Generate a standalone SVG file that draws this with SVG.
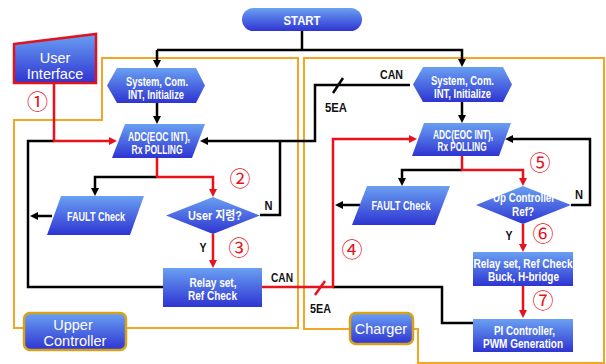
<svg xmlns="http://www.w3.org/2000/svg" width="606" height="364" viewBox="0 0 606 364">
<defs>
<linearGradient id="g" x1="0" y1="0" x2="0" y2="1">
<stop offset="0" stop-color="#6aa0f2"/>
<stop offset="1" stop-color="#2e34d2"/>
</linearGradient>
<marker id="ab" markerUnits="userSpaceOnUse" markerWidth="9" markerHeight="9" refX="1" refY="4" orient="auto">
<path d="M0,0 L8,4 L0,8 z" fill="#000"/>
</marker>
<marker id="ar" markerUnits="userSpaceOnUse" markerWidth="9" markerHeight="9" refX="1" refY="4" orient="auto">
<path d="M0,0 L8,4 L0,8 z" fill="#e8121c"/>
</marker>
<style>
.n{fill:url(#g);}
.t{font-family:"Liberation Sans","Noto Sans CJK KR",sans-serif;font-weight:bold;font-size:12.5px;fill:#fff;text-anchor:middle;}
.big{font-family:"Liberation Sans",sans-serif;font-size:14.5px;fill:#fff;text-anchor:middle;}
.lb{font-family:"Liberation Sans",sans-serif;font-weight:bold;font-size:13.5px;fill:#111;text-anchor:middle;}
.num{font-family:"Noto Sans CJK KR","DejaVu Sans",sans-serif;font-size:21px;fill:#e8121c;text-anchor:middle;}
.blk{stroke:#000;stroke-width:2.5;fill:none;}
.red{stroke:#e8121c;stroke-width:2.5;fill:none;}
.org{stroke:#f5a524;stroke-width:2;fill:none;}
.gold{stroke:#d6a21c;stroke-width:2.5;}
</style>
</defs>

<g id="frames">
<path class="org" d="M102,58 H298 V328 H14 V120 H102 Z"/>
<path class="org" d="M304,58 H604 V363 H418 V329 H304 Z"/>
</g>

<g id="connectors">
<path class="blk" d="M302,31 V50"/>
<path class="blk" d="M157,50 H462 V60" marker-end="url(#ab)"/>
<path class="blk" d="M157,50 V61" marker-end="url(#ab)"/>
<path class="blk" d="M157,103 V117" marker-end="url(#ab)"/>
<path class="blk" d="M462,102 V116" marker-end="url(#ab)"/>
<path class="blk" d="M163,287 H28 V141 H54"/>
<path class="blk" d="M52,216 H37" marker-end="url(#ab)"/>
<path class="blk" d="M157,177 H95 V189" marker-end="url(#ab)"/>
<path class="blk" d="M260,215 H280 V141"/>
<path class="blk" d="M410,85 H315 V141 H207" marker-end="url(#ab)"/>
<path class="blk" d="M462,170 H402 V179" marker-end="url(#ab)"/>
<path class="blk" d="M360,205 H342" marker-end="url(#ab)"/>
<path class="blk" d="M571,205 H590 V139 H512" marker-end="url(#ab)"/>
<path class="blk" d="M333,287 H442 V323 H473"/>
<path class="blk" d="M333,93 L343,78"/>
<path class="red" d="M54,83 V141 H110" marker-end="url(#ar)"/>
<path class="red" d="M157,158 V177 H213 V190" marker-end="url(#ar)"/>
<path class="red" d="M213,234 V261" marker-end="url(#ar)"/>
<path class="red" d="M262,287 H333 V139 H410" marker-end="url(#ar)"/>
<path class="red" d="M315,295 L325,281"/>
<path class="red" d="M462,156 V170 H523 V179" marker-end="url(#ar)"/>
<path class="red" d="M523,224 V245" marker-end="url(#ar)"/>
<path class="red" d="M523,286 V311" marker-end="url(#ar)"/>
<text class="lb" x="391.5" y="79" textLength="23" lengthAdjust="spacingAndGlyphs">CAN</text>
<text class="lb" x="336" y="112" textLength="22" lengthAdjust="spacingAndGlyphs">5EA</text>
<text class="lb" x="282" y="282" textLength="22" lengthAdjust="spacingAndGlyphs">CAN</text>
<text class="lb" x="320.5" y="313" textLength="21" lengthAdjust="spacingAndGlyphs">5EA</text>
<text class="lb" x="268.5" y="210" textLength="8" lengthAdjust="spacingAndGlyphs">N</text>
<text class="lb" x="579" y="199" textLength="8" lengthAdjust="spacingAndGlyphs">N</text>
<text class="lb" x="203" y="252" textLength="7" lengthAdjust="spacingAndGlyphs">Y</text>
<text class="lb" x="509" y="240" textLength="7" lengthAdjust="spacingAndGlyphs">Y</text>
<text class="num" x="37.5" y="109">①</text>
<text class="num" x="240" y="186">②</text>
<text class="num" x="239" y="255">③</text>
<text class="num" x="352" y="257">④</text>
<text class="num" x="540" y="170">⑤</text>
<text class="num" x="543" y="241">⑥</text>
<text class="num" x="543" y="308">⑦</text>
</g>

<g id="start">
<rect class="n" x="242" y="8" width="120" height="23" rx="11.5"/>
<text class="t" x="302" y="25" font-size="15" textLength="37" lengthAdjust="spacingAndGlyphs">START</text>
</g>

<g id="user-interface">
<polygon class="n" points="14,44 96,34 96,83 14,83" stroke="#e0141e" stroke-width="2.5"/>
<text class="big" x="55" y="63">User</text>
<text class="big" x="55" y="79">Interface</text>
</g>

<g id="upper-controller">
<rect class="n gold" x="24" y="313" width="102" height="37" rx="6"/>
<text class="big" x="73" y="330">Upper</text>
<text class="big" x="75" y="346">Controller</text>
</g>

<g id="charger">
<rect class="n gold" x="350" y="313" width="63" height="31" rx="6"/>
<text class="big" x="381" y="334">Charger</text>
</g>

<g id="l-init">
<polygon class="n" points="117,68 196,68 205,85.5 196,103 117,103 107,85.5"/>
<text class="t" x="157" y="86" textLength="62" lengthAdjust="spacingAndGlyphs">System, Com.</text>
<text class="t" x="156" y="98.5" textLength="56" lengthAdjust="spacingAndGlyphs">INT, Initialize</text>
</g>

<g id="l-adc">
<polygon class="n" points="125,124 205,124 192,158 112,158"/>
<text class="t" x="159" y="141" textLength="62" lengthAdjust="spacingAndGlyphs">ADC(EOC INT),</text>
<text class="t" x="157" y="154" textLength="51" lengthAdjust="spacingAndGlyphs">Rx POLLING</text>
</g>

<g id="l-fault">
<polygon class="n" points="61,196 144,196 130,235 47,235"/>
<text class="t" x="96" y="221" textLength="58" lengthAdjust="spacingAndGlyphs">FAULT Check</text>
</g>

<g id="l-decision">
<polygon class="n" points="213,197 260,215.5 213,234 166,215.5"/>
<text class="t" x="215" y="220" textLength="54" lengthAdjust="spacingAndGlyphs">User 지령?</text>
</g>

<g id="l-relay">
<rect class="n" x="163" y="268" width="99" height="39"/>
<text class="t" x="213" y="287" textLength="47" lengthAdjust="spacingAndGlyphs">Relay set,</text>
<text class="t" x="212.5" y="300" textLength="49" lengthAdjust="spacingAndGlyphs">Ref Check</text>
</g>

<g id="r-init">
<polygon class="n" points="423,67 503,67 512,84.5 503,102 423,102 413,84.5"/>
<text class="t" x="462.5" y="85" textLength="63" lengthAdjust="spacingAndGlyphs">System, Com.</text>
<text class="t" x="462.5" y="97.5" textLength="57" lengthAdjust="spacingAndGlyphs">INT, Initialize</text>
</g>

<g id="r-adc">
<polygon class="n" points="424,123 511,123 499,156 412,156"/>
<text class="t" x="463" y="138.5" textLength="60" lengthAdjust="spacingAndGlyphs">ADC(EOC INT),</text>
<text class="t" x="462" y="151" textLength="49" lengthAdjust="spacingAndGlyphs">Rx POLLING</text>
</g>

<g id="r-fault">
<polygon class="n" points="367,186 450,186 435,225 352,225"/>
<text class="t" x="401" y="210" textLength="59" lengthAdjust="spacingAndGlyphs">FAULT Check</text>
</g>

<g id="r-decision">
<polygon class="n" points="523,186 571,205 523,224 476,205"/>
<text class="t" x="524" y="202" textLength="62" lengthAdjust="spacingAndGlyphs">Up Controller</text>
<text class="t" x="523" y="216" textLength="22" lengthAdjust="spacingAndGlyphs">Ref?</text>
</g>

<g id="r-relay">
<rect class="n" x="473" y="252" width="100" height="34"/>
<text class="t" x="523" y="268" textLength="99" lengthAdjust="spacingAndGlyphs">Relay set, Ref Check</text>
<text class="t" x="523.5" y="281" textLength="71" lengthAdjust="spacingAndGlyphs">Buck, H-bridge</text>
</g>

<g id="r-pi">
<rect class="n" x="473" y="319" width="100" height="33"/>
<text class="t" x="524.5" y="335" textLength="61" lengthAdjust="spacingAndGlyphs">PI Controller,</text>
<text class="t" x="523" y="347.5" textLength="80" lengthAdjust="spacingAndGlyphs">PWM Generation</text>
</g>
</svg>
